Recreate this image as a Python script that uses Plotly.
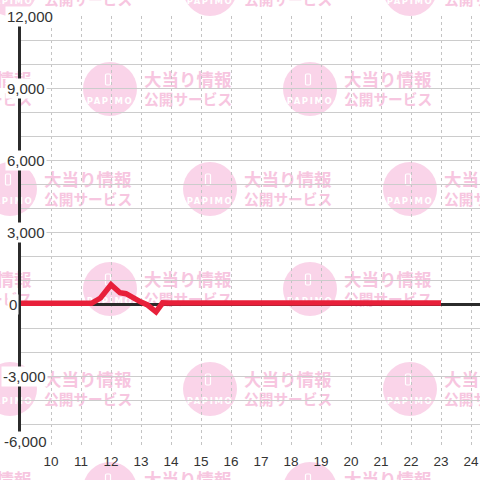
import base64
import plotly.graph_objects as go

# ---- data ----
hours = [9, 11.35, 11.65, 12.0, 12.3, 12.5, 13.0, 13.2, 13.5, 13.72, 13.9, 23]
diff = [30, 30, 250, 800, 470, 430, 80, -30, -330, 50, 40, 40]

x_ticks = list(range(10, 25))
x_tick_labels = [str(v) for v in x_ticks]
y_label_vals = [12000, 9000, 6000, 3000, 0, -3000, -6000]
y_label_text = ["12,000", "9,000", "6,000", "3,000", "0", "-3,000", "-6,000"]

# ---- geometry (pixels) ----
W = H = 480
L, R, T, B = 21, 0, 16, 32
PW, PH = W - L - R, H - T - B
X0 = 9
XPX = 30.0  # px per hour


def px2paper_x(px):
    return (px - L) / PW


# ---- watermark (background image, pixel coordinates) ----
parts = []
for b in range(-1, 7):
    for a in range(-2, 6):
        if (a + b) % 2:
            continue
        cx = 10 + 100 * a
        cy = -11 + 100 * b
        parts.append(f'<circle cx="{cx}" cy="{cy}" r="27" fill="#fad4e9"/>')
        parts.append(f'<rect x="{cx-4.5}" y="{cy-15}" width="5" height="11" rx="1.2" fill="none" stroke="#ffffff" stroke-width="1.2"/>')
        parts.append(f'<text x="{cx}" y="{cy+14.5}" font-family="DejaVu Sans" font-size="8.5" font-weight="bold" fill="#ffffff" text-anchor="middle" letter-spacing="1.6">PAPIMO</text>')
        parts.append(f'<text x="{cx+34}" y="{cy-3}" font-family="Noto Sans CJK JP" font-size="17.5" font-weight="bold" fill="#f7c6e0">大当り情報</text>')
        parts.append(f'<text x="{cx+34}" y="{cy+16}" font-family="Noto Sans CJK JP" font-size="14.7" font-weight="bold" fill="#f7c6e0">公開サービス</text>')
svg = (f'<svg xmlns="http://www.w3.org/2000/svg" width="{W}" height="{H}" viewBox="0 0 {W} {H}">'
       + "".join(parts) + "</svg>")
src = "data:image/svg+xml;base64," + base64.b64encode(svg.encode("utf-8")).decode("ascii")

fig = go.Figure()
fig.add_trace(go.Scatter(
    x=hours, y=diff, mode="lines",
    line=dict(color="#e8203a", width=5.5),
    hoverinfo="skip", showlegend=False,
))

annotations = []
left_px = {"12,000": 5, "9,000": 5, "6,000": 5, "3,000": 5, "0": 7, "-3,000": 1, "-6,000": 2}
for v, t in zip(y_label_vals, y_label_text):
    annotations.append(dict(
        xref="paper", yref="y", x=px2paper_x(left_px[t]), y=v,
        xanchor="left", yanchor="middle", text=t, showarrow=False,
        font=dict(family="Liberation Sans, Arial, sans-serif", size=15, color="#333333"),
        bgcolor="#ffffff", borderpad=1,
        yshift=7 if v == -6000 else 0,
    ))

fig.update_layout(
    width=W, height=H,
    margin=dict(l=L, r=R, t=T, b=B, pad=0),
    paper_bgcolor="#ffffff",
    plot_bgcolor="rgba(0,0,0,0)",
    showlegend=False,
    images=[dict(source=src, xref="paper", yref="paper",
                 x=-L / PW, y=1 + T / PH, sizex=W / PW, sizey=H / PH,
                 xanchor="left", yanchor="top", sizing="stretch", layer="below")],
    annotations=annotations,
    xaxis=dict(
        range=[X0, X0 + PW / XPX],
        tickmode="array", tickvals=x_ticks, ticktext=x_tick_labels,
        showgrid=True, gridcolor="#c4c4c4", gridwidth=1, griddash="3px,3px",
        zeroline=False, showline=False, ticks="", ticklabelstandoff=3,
        tickfont=dict(family="Liberation Sans, Arial, sans-serif", size=13.5, color="#333333"),
        fixedrange=True,
    ),
    yaxis=dict(
        range=[-6000, 12000], dtick=1000, tick0=0,
        showgrid=True, gridcolor="#cccccc", gridwidth=1.3,
        zeroline=True, zerolinecolor="#2b2b2b", zerolinewidth=3,
        showline=True, linecolor="#2b2b2b", linewidth=3,
        showticklabels=False, ticks="",
        fixedrange=True,
    ),
)

fig.write_html(
    "out.html",
    config={"displayModeBar": False},
    post_script="document.body.style.margin='0';document.body.style.overflow='hidden';",
)
